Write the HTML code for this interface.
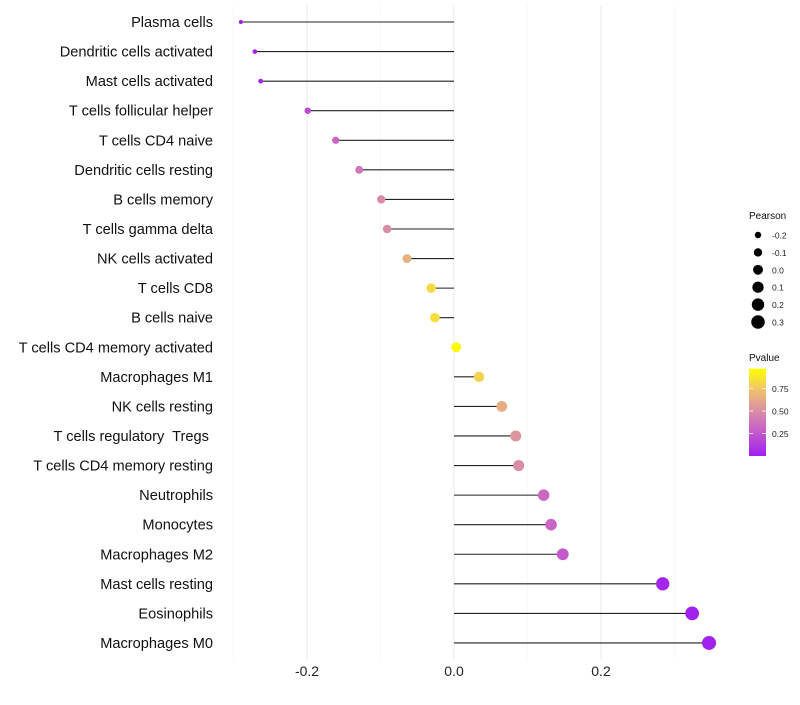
<!DOCTYPE html>
<html><head><meta charset="utf-8"><style>
body{margin:0;background:#fff;font-family:"Liberation Sans",sans-serif}
text{white-space:pre}
</style></head><body>
<svg id="chart" width="800" height="700" xmlns="http://www.w3.org/2000/svg"></svg>
<script>
const cells=["Plasma cells","Dendritic cells activated","Mast cells activated","T cells follicular helper","T cells CD4 naive","Dendritic cells resting","B cells memory","T cells gamma delta","NK cells activated","T cells CD8","B cells naive","T cells CD4 memory activated","Macrophages M1","NK cells resting","T cells regulatory  Tregs ","T cells CD4 memory resting","Neutrophils","Monocytes","Macrophages M2","Mast cells resting","Eosinophils","Macrophages M0"];
const pearson=[-0.290,-0.271,-0.263,-0.199,-0.161,-0.129,-0.099,-0.091,-0.064,-0.031,-0.026,0.003,0.034,0.065,0.084,0.088,0.122,0.132,0.148,0.284,0.324,0.347];
const pvalue=[0.01,0.03,0.05,0.2,0.32,0.4,0.5,0.52,0.68,0.85,0.87,0.97,0.82,0.66,0.55,0.52,0.34,0.32,0.27,0.03,0.01,0.005];
const xTicks=[-0.2,0,0.2];
const xTickLabels=["-0.2","0.0","0.2"];
const minorTicks=[-0.3,-0.1,0.1,0.3];
const sizeLegend=[-0.2,-0.1,0.0,0.1,0.2,0.3];
const sizeLegendLabels=["-0.2","-0.1","0.0","0.1","0.2","0.3"];
const pTicks=[0.25,0.5,0.75];
const pTickLabels=["0.25","0.50","0.75"];

const svg=document.getElementById('chart');
const NS="http://www.w3.org/2000/svg";
function el(t,a,p){const e=document.createElementNS(NS,t);for(const k in a)e.setAttribute(k,a[k]);(p||svg).appendChild(e);return e;}
const x=v=>454+v*735;
const y=i=>22+i*29.57;
const pmin=Math.min(...pearson),pmax=Math.max(...pearson);
const rad=v=>Math.sqrt(4+Math.max(0,(v-pmin)/(pmax-pmin))*(49-4));
const stops=[[0,[160,32,240]],[0.3,[200,96,200]],[0.5,[216,138,168]],[0.75,[240,192,112]],[1,[255,255,0]]];
function col(p){for(let i=1;i<stops.length;i++){if(p<=stops[i][0]){const a=stops[i-1],b=stops[i],t=(p-a[0])/(b[0]-a[0]);return 'rgb('+a[1].map((c,j)=>Math.round(c+(b[1][j]-c)*t)).join(',')+')';}}return 'rgb(255,255,0)';}

minorTicks.forEach(v=>{const l=el('line',{x1:x(v),x2:x(v),y1:5,y2:660,stroke:'#f2f2f2','stroke-width':0.6});

});
xTicks.forEach((v,i)=>{const l=el('line',{x1:x(v),x2:x(v),y1:5,y2:660,stroke:'#ebebeb','stroke-width':1.1});


const t=el('text',{x:x(v),y:676,'text-anchor':'middle','font-size':14,fill:'#222'});t.textContent=xTickLabels[i];

});

cells.forEach((c,i)=>{
const t=el('text',{x:213,y:y(i)+5,'text-anchor':'end','font-size':14.6,fill:'#111'});t.textContent=c;


const l=el('line',{x1:x(0),x2:x(pearson[i]),y1:y(i),y2:y(i),stroke:'#222','stroke-width':1.1});


const d=el('circle',{cx:x(pearson[i]),cy:y(i),r:rad(pearson[i]),fill:col(pvalue[i])});


});

const lt=el('text',{x:749,y:219,'font-size':10,fill:'#111'});lt.textContent='Pearson';


sizeLegend.forEach((v,i)=>{const cy=235+i*17.4;
const c=el('circle',{cx:758,cy:cy,r:rad(v),fill:'#000'});


const t=el('text',{x:772,y:cy+3.5,'font-size':8.5,fill:'#222'});t.textContent=sizeLegendLabels[i];

});

const pt=el('text',{x:749,y:361,'font-size':10,fill:'#111'});pt.textContent='Pvalue';


const defs=el('defs',{});const g=el('linearGradient',{id:'pg',x1:0,y1:1,x2:0,y2:0},defs);
stops.forEach(s=>el('stop',{offset:s[0],'stop-color':'rgb('+s[1].join(',')+')'},g));
const py=p=>456-p*90;
const bar=el('rect',{x:749,y:py(0.97),width:17,height:py(0)-py(0.97),fill:'url(#pg)'});


pTicks.forEach((p,i)=>{
el('line',{x1:749,x2:753,y1:py(p),y2:py(p),stroke:'#fff','stroke-width':0.8});
el('line',{x1:762,x2:766,y1:py(p),y2:py(p),stroke:'#fff','stroke-width':0.8});
const t=el('text',{x:772,y:py(p)+3.5,'font-size':8.5,fill:'#222'});t.textContent=pTickLabels[i];

});
</script>
</body></html>
